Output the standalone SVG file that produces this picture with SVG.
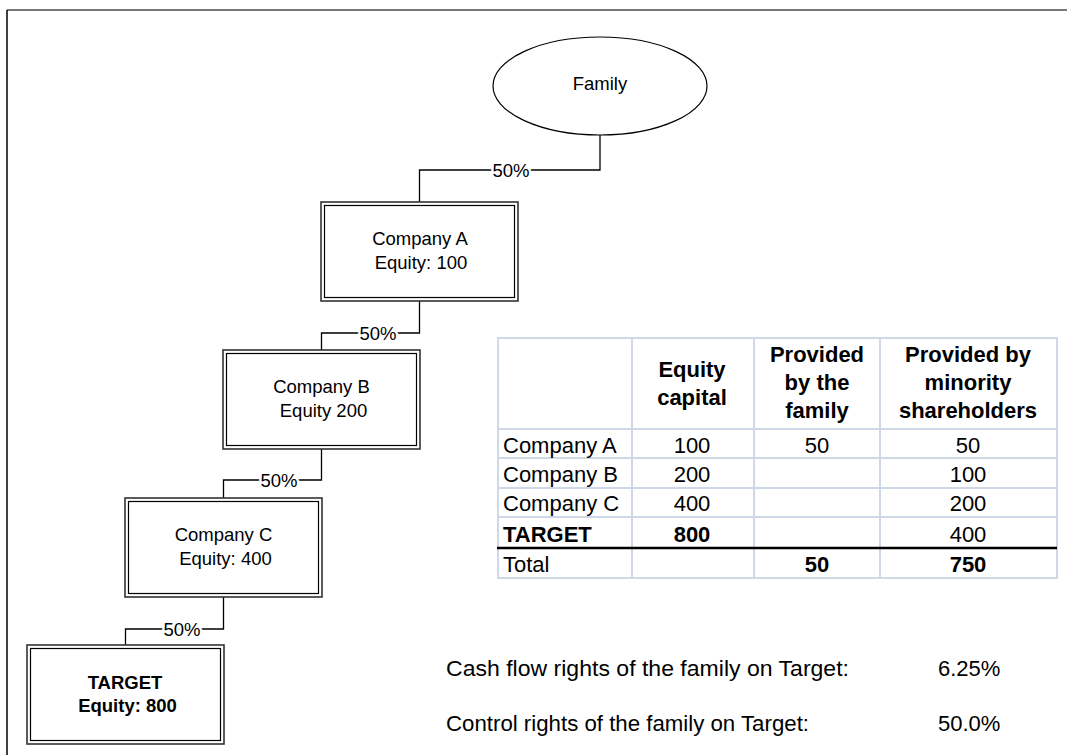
<svg xmlns="http://www.w3.org/2000/svg" width="1067" height="755" viewBox="0 0 1067 755">
<style>
text{font-family:"Liberation Sans",Arial,sans-serif;fill:#000}
.nt{font-size:18.5px;text-anchor:middle}
.lbl{font-size:18.5px;text-anchor:middle;stroke:#fff;stroke-width:5px;paint-order:stroke;stroke-linejoin:round}
.b{font-weight:bold}
.outer{fill:#fff;stroke:#333;stroke-width:1.6}
.inner{fill:none;stroke:#000;stroke-width:1.2}
.conn{fill:none;stroke:#000;stroke-width:1.3}
.grid{stroke:#cfd8e6;stroke-width:2;fill:none}
.tt{font-size:22px}
.c{text-anchor:middle}
.bt{font-size:22px}
</style>
<rect width="1067" height="755" fill="#fff"/>
<g id="frame">
<line x1="7" y1="10" x2="1067" y2="10" stroke="#777" stroke-width="2"/>
<line x1="7" y1="10" x2="7" y2="755" stroke="#000" stroke-width="1.5"/>
</g>
<g id="connectors">
<path class="conn" d="M600,135 V170 H419.5 V202"/>
<path class="conn" d="M419.5,301 V333 H321.5 V350"/>
<path class="conn" d="M321.5,449 V480 H223.5 V498"/>
<path class="conn" d="M223.5,597 V629 H125.5 V645"/>
<text class="lbl" x="511" y="176.5">50%</text>
<text class="lbl" x="378" y="339.5">50%</text>
<text class="lbl" x="279" y="486.5">50%</text>
<text class="lbl" x="182" y="635.5">50%</text>
</g>
<g id="family">
<ellipse cx="600" cy="86" rx="107" ry="49" fill="#fff" stroke="#000" stroke-width="1.2"/>
<text class="nt" x="600" y="90">Family</text>
</g>
<g id="companyA">
<rect class="outer" x="321" y="202" width="197" height="99"/>
<rect class="inner" x="324.5" y="205.5" width="190" height="92"/>
<text class="nt" x="420" y="245">Company A</text>
<text class="nt" x="421" y="269">Equity: 100</text>
</g>
<g id="companyB">
<rect class="outer" x="223" y="350" width="197" height="99"/>
<rect class="inner" x="226.5" y="353.5" width="190" height="92"/>
<text class="nt" x="321.5" y="393">Company B</text>
<text class="nt" x="323.5" y="417">Equity 200</text>
</g>
<g id="companyC">
<rect class="outer" x="125" y="498" width="197" height="99"/>
<rect class="inner" x="128.5" y="501.5" width="190" height="92"/>
<text class="nt" x="223.5" y="541">Company C</text>
<text class="nt" x="225.5" y="565">Equity: 400</text>
</g>
<g id="target">
<rect class="outer" x="27" y="645" width="197" height="99"/>
<rect class="inner" x="30.5" y="648.5" width="190" height="92"/>
<text class="nt b" x="125" y="689">TARGET</text>
<text class="nt b" x="127.5" y="712">Equity: 800</text>
</g>
<g id="table">
<rect class="grid" x="498" y="338" width="559" height="240"/>
<line class="grid" x1="632" y1="338" x2="632" y2="578"/>
<line class="grid" x1="754" y1="338" x2="754" y2="578"/>
<line class="grid" x1="880" y1="338" x2="880" y2="578"/>
<line class="grid" x1="498" y1="429" x2="1057" y2="429"/>
<line class="grid" x1="498" y1="458" x2="1057" y2="458"/>
<line class="grid" x1="498" y1="488" x2="1057" y2="488"/>
<line class="grid" x1="498" y1="517" x2="1057" y2="517"/>
<line x1="497" y1="548" x2="1057" y2="548" stroke="#000" stroke-width="2.5"/>
<g class="tt b c">
<text x="692" y="377">Equity</text>
<text x="692" y="405">capital</text>
<text x="817" y="362">Provided</text>
<text x="817" y="390">by the</text>
<text x="817" y="418">family</text>
<text x="968" y="362">Provided by</text>
<text x="968" y="390">minority</text>
<text x="968" y="418">shareholders</text>
</g>
<g class="tt">
<text x="503" y="453">Company A</text>
<text x="503" y="482">Company B</text>
<text x="503" y="511">Company C</text>
<text x="503" y="542" class="b">TARGET</text>
<text x="503" y="572">Total</text>
</g>
<g class="tt c">
<text x="692" y="453">100</text>
<text x="692" y="482">200</text>
<text x="692" y="511">400</text>
<text x="692" y="542" class="b">800</text>
<text x="817" y="453">50</text>
<text x="817" y="572" class="b">50</text>
<text x="968" y="453">50</text>
<text x="968" y="482">100</text>
<text x="968" y="511">200</text>
<text x="968" y="542">400</text>
<text x="968" y="572" class="b">750</text>
</g>
</g>
<g id="rights">
<text class="bt" x="446" y="676" textLength="403" lengthAdjust="spacingAndGlyphs">Cash flow rights of the family on Target:</text>
<text class="bt" x="938" y="676">6.25%</text>
<text class="bt" x="446" y="731" textLength="363" lengthAdjust="spacingAndGlyphs">Control rights of the family on Target:</text>
<text class="bt" x="938" y="731">50.0%</text>
</g>
</svg>
